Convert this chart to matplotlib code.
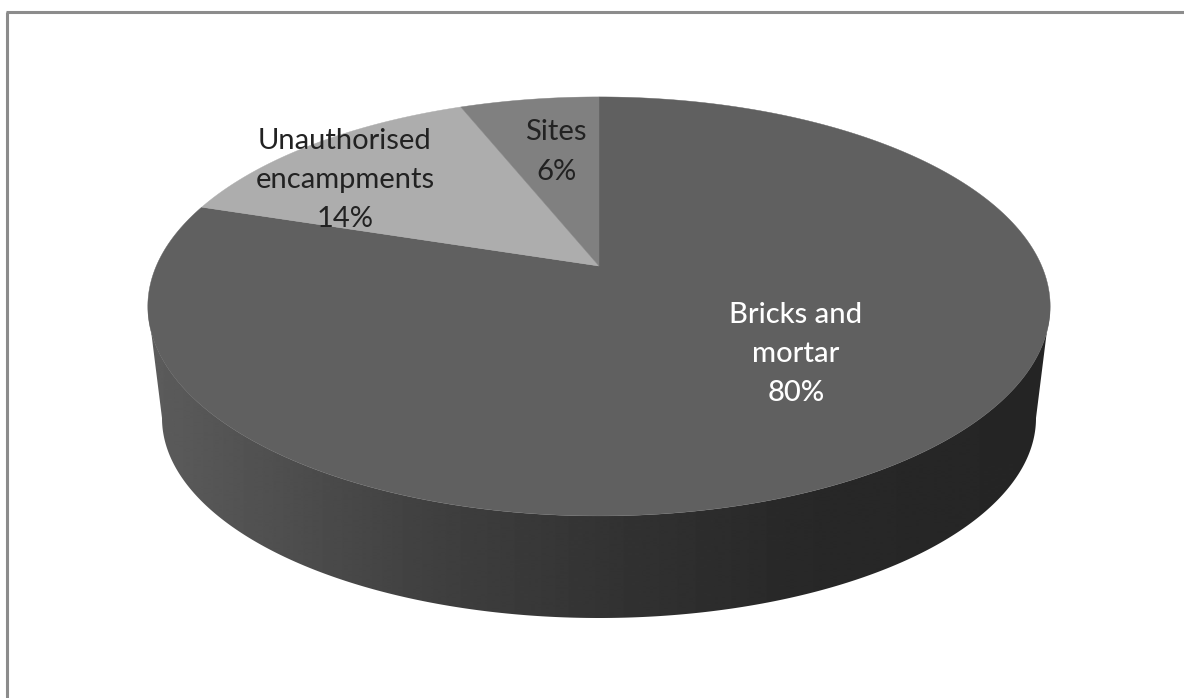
import numpy as np
import matplotlib
matplotlib.use("Agg")
import matplotlib.pyplot as plt
from matplotlib.patches import Polygon

# Data
categories = ["Bricks and\nmortar", "Unauthorised\nencampments", "Sites"]
values = [80, 14, 6]
percent_labels = ["80%", "14%", "6%"]

W, H = 1184, 698
fig = plt.figure(figsize=(W / 100, H / 100), dpi=100, facecolor="white")
ax = fig.add_axes([0, 0, 1, 1])
ax.set_xlim(0, W)
ax.set_ylim(H, 0)
ax.axis("off")

# Perspective of the tilted disc
CX, CY = 599.0, 266.0
B, A, P = 442.7, 201.7, 0.193
BOT_RX, BOT_CY, BOT_RY = 437.0, 418.0, 200.0
TOP_RX = 451.0
TOP_CY, TOP_RY = 306.5, 209.5


def top_xy(theta):
    u, v = np.sin(theta), np.cos(theta)
    d = 1 + P * v
    return CX + B * u / d, CY - A * v / d


# Frame
ax.plot([6.5, 6.5], [H, 11.5], color="#8c8c8c", lw=2.2, solid_capstyle="butt")
ax.plot([5.5, W], [11.5, 11.5], color="#8c8c8c", lw=2.2, solid_capstyle="butt")

# Side wall: front half silhouette filled by a horizontal shading image
t = np.linspace(np.pi, 0, 400)
xt = CX + TOP_RX * np.cos(t)
yt = TOP_CY + TOP_RY * np.sin(t)
xb = CX + BOT_RX * np.cos(t)
yb = BOT_CY + BOT_RY * np.sin(t)
stops_x = [150, 430, 620, 800, 1050]
stops_g = [0x5c, 0x40, 0x32, 0x28, 0x25]
grad_x = np.linspace(140, 1060, 921)
grad = np.interp(grad_x, stops_x, stops_g)[None, :]
side = Polygon(np.c_[np.r_[xt, xb[::-1]], np.r_[yt, yb[::-1]]], closed=True, fc="none", ec="none",
               transform=ax.transData)
ax.add_patch(side)
im = ax.imshow(grad, cmap="gray", vmin=0, vmax=255, extent=(140, 1060, 640, 290), aspect="auto",
               interpolation="bilinear", zorder=2)
im.set_clip_path(side)
ax.set_xlim(0, W)
ax.set_ylim(H, 0)

# Top slices
colors = ["#606060", "#adadad", "#808080"]
edges = np.concatenate([[0], np.cumsum(values)]) / np.sum(values) * 2 * np.pi
for i, c in enumerate(colors):
    th = np.linspace(edges[i], edges[i + 1], 300)
    x, y = top_xy(th)
    ax.fill(np.r_[CX, x], np.r_[CY, y], color=c, lw=0.3, zorder=3)

# Labels
font = ["Lato", "DejaVu Sans"]
kw = dict(fontsize=21, family=font, ha="center", va="center", linespacing=1.63, zorder=4)
ax.text(796, 354, f"{categories[0]}\n{percent_labels[0]}", color="white", fontweight="medium", **kw)
ax.text(345, 180, f"{categories[1]}\n{percent_labels[1]}", color="#222222", **kw)
ax.text(556, 152, f"{categories[2]}\n{percent_labels[2]}", color="#222222", **kw)

fig.savefig("out.png", dpi=100, facecolor="white")
